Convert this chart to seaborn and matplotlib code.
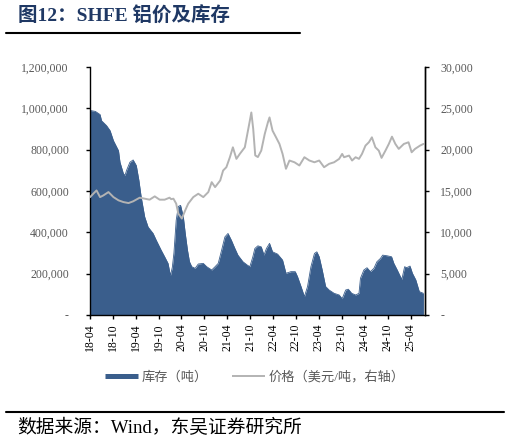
import pandas as pd
import matplotlib
matplotlib.use("Agg")
import matplotlib.pyplot as plt
import matplotlib.dates as mdates
from matplotlib.lines import Line2D
from matplotlib.ticker import FuncFormatter
import seaborn as sns

# SHFE inventory (tons)
inv_dates = [
    "2018-04-02", "2018-05-16", "2018-06-22", "2018-07-04", "2018-08-13", "2018-09-10",
    "2018-10-07", "2018-11-16", "2018-11-28", "2018-12-25", "2019-01-07", "2019-01-19",
    "2019-02-15", "2019-03-13", "2019-04-07", "2019-04-28", "2019-05-16", "2019-06-13",
    "2019-07-10", "2019-08-19", "2019-09-13", "2019-10-22", "2019-11-19", "2019-12-16",
    "2020-01-04", "2020-01-19", "2020-02-01", "2020-02-19", "2020-03-07", "2020-03-25",
    "2020-04-16", "2020-05-01", "2020-05-19", "2020-06-04", "2020-06-22", "2020-07-19",
    "2020-08-13", "2020-09-22", "2020-10-19", "2020-11-28", "2020-12-25", "2021-01-19",
    "2021-02-15", "2021-03-13", "2021-04-07", "2021-05-04", "2021-06-01", "2021-06-25",
    "2021-08-04", "2021-09-07", "2021-09-28", "2021-10-22", "2021-11-07", "2021-12-01",
    "2021-12-28", "2022-01-19", "2022-02-07", "2022-03-04", "2022-03-28", "2022-05-07",
    "2022-06-16", "2022-07-13", "2022-08-22", "2022-09-25", "2022-10-13", "2022-11-10",
    "2022-12-07", "2023-01-01", "2023-01-28", "2023-02-25", "2023-03-16", "2023-04-04",
    "2023-04-28", "2023-05-25", "2023-06-22", "2023-08-01", "2023-09-10", "2023-10-04",
    "2023-11-01", "2023-11-22", "2023-12-19", "2024-01-19", "2024-02-15", "2024-02-27",
    "2024-03-25", "2024-04-19", "2024-05-16", "2024-06-13", "2024-07-07", "2024-08-04",
    "2024-08-22", "2024-09-25", "2024-11-01", "2024-11-19", "2024-12-16", "2025-01-10",
    "2025-01-22", "2025-02-13", "2025-03-01", "2025-03-28", "2025-04-16", "2025-05-13",
    "2025-06-10", "2025-07-13",
]
inventory = [
    990000, 985000, 970000, 940000, 916000, 892000,
    843000, 795000, 739000, 684000, 675000, 699000,
    739000, 750000, 723000, 650000, 570000, 474000,
    425000, 394000, 361000, 313000, 281000, 249000,
    190000, 230000, 300000, 458000, 525000, 530000,
    474000, 395000, 313000, 257000, 233000, 225000,
    246000, 249000, 233000, 217000, 233000, 249000,
    313000, 377000, 394000, 361000, 321000, 289000,
    257000, 241000, 233000, 281000, 321000, 334000,
    329000, 289000, 321000, 346000, 305000, 294000,
    265000, 201000, 209000, 209000, 185000, 137000,
    88000, 137000, 233000, 297000, 305000, 281000,
    217000, 137000, 120000, 104000, 96000, 78000,
    120000, 124000, 104000, 96000, 104000, 177000,
    217000, 228000, 209000, 225000, 257000, 273000,
    289000, 286000, 281000, 249000, 217000, 185000,
    172000, 233000, 228000, 236000, 201000, 169000,
    112000, 104000,
]

# SHFE aluminium price, right axis
price_dates = [
    "2018-04-04", "2018-04-29", "2018-05-25", "2018-06-22", "2018-07-19", "2018-08-28",
    "2018-10-07", "2018-11-16", "2018-12-25", "2019-02-04", "2019-03-13", "2019-05-04",
    "2019-06-13", "2019-07-22", "2019-09-01", "2019-10-10", "2019-11-19", "2019-12-28",
    "2020-01-10", "2020-01-28", "2020-02-19", "2020-03-07", "2020-04-04", "2020-05-01",
    "2020-05-25", "2020-07-04", "2020-08-13", "2020-09-22", "2020-11-01", "2020-11-28",
    "2020-12-25", "2021-02-04", "2021-02-27", "2021-03-25", "2021-04-22", "2021-05-16",
    "2021-06-13", "2021-07-10", "2021-08-19", "2021-09-28", "2021-10-10", "2021-10-25",
    "2021-11-10", "2021-12-01", "2021-12-28", "2022-01-25", "2022-02-19", "2022-03-04",
    "2022-03-28", "2022-04-25", "2022-05-22", "2022-06-16", "2022-07-13", "2022-08-10",
    "2022-09-19", "2022-10-28", "2022-12-07", "2023-01-16", "2023-02-25", "2023-04-04",
    "2023-05-13", "2023-06-22", "2023-08-01", "2023-09-10", "2023-10-04", "2023-10-19",
    "2023-11-28", "2023-12-22", "2024-01-19", "2024-02-15", "2024-03-10", "2024-04-07",
    "2024-05-04", "2024-05-28", "2024-06-25", "2024-07-22", "2024-08-13", "2024-09-13",
    "2024-10-10", "2024-11-04", "2024-12-01", "2024-12-28", "2025-02-07", "2025-03-16",
    "2025-04-10", "2025-05-07", "2025-06-16", "2025-07-13",
]
price = [
    14250, 14660, 15060, 14250, 14460, 14860,
    14250, 13860, 13650, 13530, 13740, 14180,
    14060, 13940, 14340, 13940, 13940, 14180,
    14000, 14060, 13460, 12250, 11650, 12650,
    13460, 14250, 14660, 14250, 14860, 16060,
    15460, 16270, 17470, 17870, 19080, 20280,
    18880, 19480, 20280, 23500, 24500, 22500,
    19300, 19100, 19880, 21900, 23300, 23900,
    22300, 21490, 20690, 19480, 17680, 18680,
    18470, 18080, 19080, 18680, 18470, 18680,
    17870, 18280, 18470, 18880, 19480, 19080,
    19280, 18680, 19080, 18880, 19480, 20490,
    20890, 21490, 20280, 19880, 19000, 19880,
    20690, 21570, 20690, 20090, 20690, 20890,
    19680, 20090, 20490, 20690,
]

title = "图12：SHFE 铝价及库存"
source = "数据来源：Wind，东吴证券研究所"
inv_label = "库存（吨）"
price_label = "价格（美元/吨，右轴）"

inv_df = pd.DataFrame({"date": pd.to_datetime(inv_dates), "inventory": inventory})
price_df = pd.DataFrame({"date": pd.to_datetime(price_dates), "price": price})

sns.set_style("white")
plt.rcParams["font.family"] = ["Liberation Serif", "Noto Sans CJK SC", "DejaVu Sans"]

blue = "#3a5e8c"
grey = "#b3b3b3"
label_grey = "#595959"

fig = plt.figure(figsize=(5.10, 4.44), dpi=100)
ax = fig.add_axes([0.176, 0.291, 0.657, 0.558])
ax2 = ax.twinx()

# inventory area
ax.fill_between(inv_df["date"], inv_df["inventory"], 0, color=blue, linewidth=0)
sns.lineplot(data=inv_df, x="date", y="inventory", ax=ax, color=blue, linewidth=0.6)

# price line
sns.lineplot(data=price_df, x="date", y="price", ax=ax2, color=grey, linewidth=1.4)

ax.set_ylim(0, 1200000)
ax2.set_ylim(0, 30000)
ax.set_xlim(pd.Timestamp("2018-04-01"), pd.Timestamp("2025-07-24"))
ax.set_yticks(range(0, 1200001, 200000))
ax2.set_yticks(range(0, 30001, 5000))

ax.yaxis.set_major_formatter(FuncFormatter(lambda v, p: "-" if v == 0 else f"{int(v):,}"))
ax2.yaxis.set_major_formatter(FuncFormatter(lambda v, p: "-" if v == 0 else f"{int(v):,}"))

ax.xaxis.set_major_locator(mdates.MonthLocator(bymonth=[4, 10]))
ax.xaxis.set_major_formatter(mdates.DateFormatter("%y-%m"))

for a in (ax, ax2):
    a.set_xlabel("")
    a.set_ylabel("")
    a.spines["top"].set_visible(False)
    for s in ("left", "right", "bottom"):
        a.spines[s].set_color("black")
        a.spines[s].set_linewidth(1.0)

ax.tick_params(axis="y", direction="out", length=3, width=1, color="black",
               labelsize=8.5, labelcolor=label_grey, pad=12, left=True)
ax2.tick_params(axis="y", direction="out", length=3, width=1, color="black",
                labelsize=8.5, labelcolor=label_grey, pad=8, right=True)
ax.tick_params(axis="x", direction="out", length=3, width=1, color="black",
               labelsize=8.5, labelcolor="black", rotation=90, pad=3, bottom=True)
ax2.spines["left"].set_visible(False)
ax2.spines["bottom"].set_visible(False)

# legend
handles = [
    Line2D([0], [0], color=blue, linewidth=3.6, solid_capstyle="butt"),
    Line2D([0], [0], color=grey, linewidth=1.4, solid_capstyle="butt"),
]
leg = fig.legend(handles, [inv_label, price_label], loc="center", bbox_to_anchor=(0.5, 0.151),
                 ncol=2, frameon=False, fontsize=9.5, handlelength=2.5, columnspacing=1.8,
                 handletextpad=0.3)
for t in leg.get_texts():
    t.set_color(label_grey)

# title and source with rules
fig.text(0.035, 0.963, title, fontsize=14, fontweight="bold", color="#1f3864", va="center", ha="left")
fig.add_artist(Line2D([0.012, 0.588], [0.925, 0.925], color="black", linewidth=1.5))
fig.add_artist(Line2D([0.012, 0.988], [0.073, 0.073], color="black", linewidth=1.5))
fig.text(0.033, 0.036, source, fontsize=13.5, color="black", va="center", ha="left")

fig.savefig("out.png", dpi=100)
